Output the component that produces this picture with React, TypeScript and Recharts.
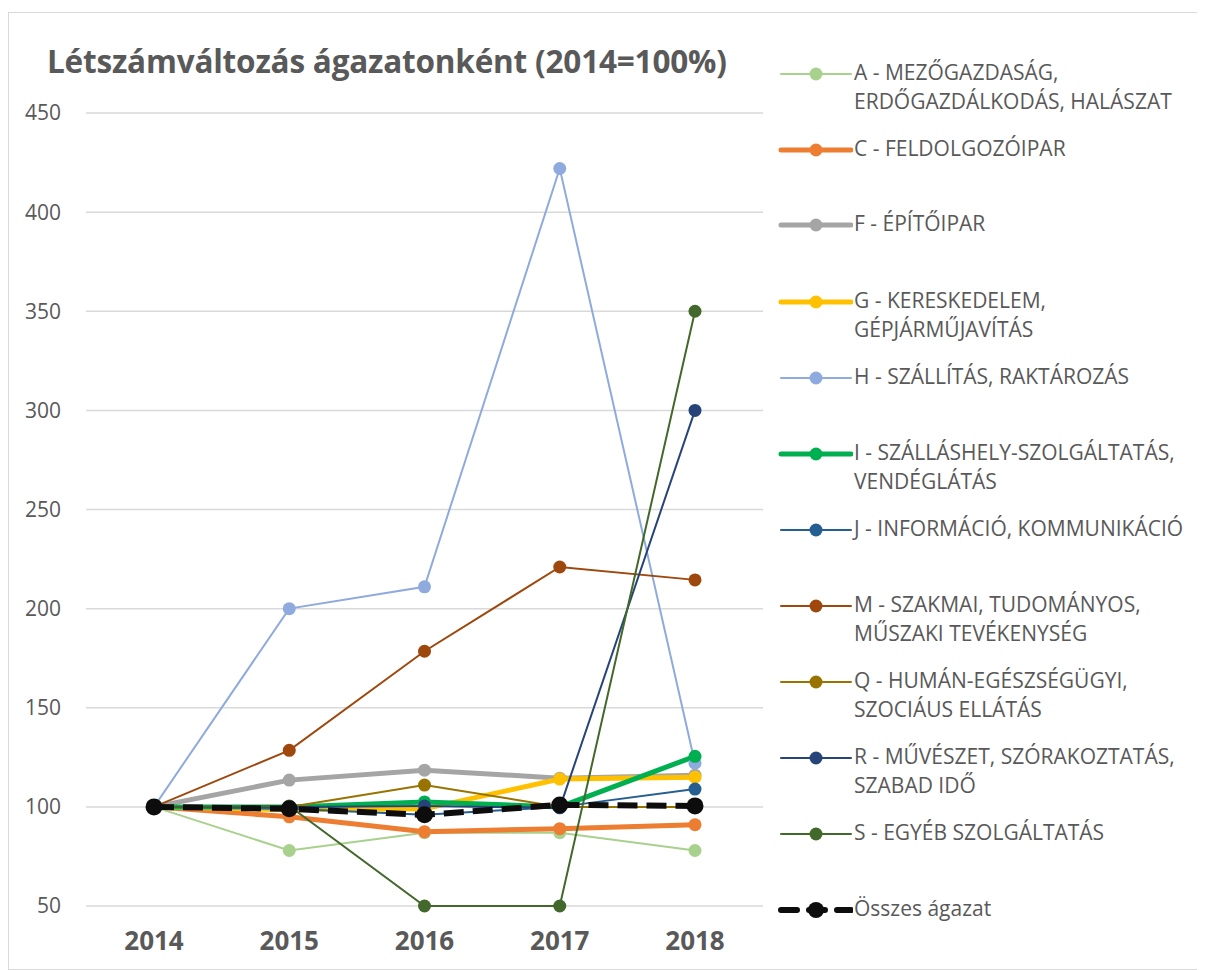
import React from 'react';
import { LineChart, Line, XAxis, YAxis, CartesianGrid } from 'recharts';

const years = ['2014', '2015', '2016', '2017', '2018'];

const seriesNames = [
  'A - MEZŐGAZDASÁG, ERDŐGAZDÁLKODÁS, HALÁSZAT',
  'C - FELDOLGOZÓIPAR',
  'F - ÉPÍTŐIPAR',
  'G - KERESKEDELEM, GÉPJÁRMŰJAVÍTÁS',
  'H - SZÁLLÍTÁS, RAKTÁROZÁS',
  'I - SZÁLLÁSHELY-SZOLGÁLTATÁS, VENDÉGLÁTÁS',
  'J - INFORMÁCIÓ, KOMMUNIKÁCIÓ',
  'M - SZAKMAI, TUDOMÁNYOS, MŰSZAKI TEVÉKENYSÉG',
  'Q - HUMÁN-EGÉSZSÉGÜGYI, SZOCIÁUS ELLÁTÁS',
  'R - MŰVÉSZET, SZÓRAKOZTATÁS, SZABAD IDŐ',
  'S - EGYÉB SZOLGÁLTATÁS',
  'Összes ágazat',
];

// legend lines (wrapped like the original)
const legendLines = [
  ['A - MEZŐGAZDASÁG,', 'ERDŐGAZDÁLKODÁS, HALÁSZAT'],
  ['C - FELDOLGOZÓIPAR'],
  ['F - ÉPÍTŐIPAR'],
  ['G - KERESKEDELEM,', 'GÉPJÁRMŰJAVÍTÁS'],
  ['H - SZÁLLÍTÁS, RAKTÁROZÁS'],
  ['I - SZÁLLÁSHELY-SZOLGÁLTATÁS,', 'VENDÉGLÁTÁS'],
  ['J - INFORMÁCIÓ, KOMMUNIKÁCIÓ'],
  ['M - SZAKMAI, TUDOMÁNYOS,', 'MŰSZAKI TEVÉKENYSÉG'],
  ['Q - HUMÁN-EGÉSZSÉGÜGYI,', 'SZOCIÁUS ELLÁTÁS'],
  ['R - MŰVÉSZET, SZÓRAKOZTATÁS,', 'SZABAD IDŐ'],
  ['S - EGYÉB SZOLGÁLTATÁS'],
  ['Összes ágazat'],
];

const valA = [100, 78, 87, 87, 78];
const valC = [100, 95, 87.5, 89, 91];
const valF = [100, 113.5, 118.5, 114.5, 116];
const valG = [100, 98.5, 99, 114, 115];
const valH = [100, 200, 211, 422, 122];
const valI = [100, 100, 102.5, 100, 125.5];
const valJ = [100, 99, 96, 100, 109];
const valM = [100, 128.5, 178.5, 221, 214.5];
const valQ = [100, 100, 111, 100, 100];
const valR = [100, 100, 100.5, 99.5, 300];
const valS = [100, 100.5, 50, 50, 350];
const valTotal = [100, 99, 96, 101, 100.5];

const yTicks = [50, 100, 150, 200, 250, 300, 350, 400, 450];

const allValues = [valA, valC, valF, valG, valH, valI, valJ, valM, valQ, valR, valS, valTotal];
const keys = ['A', 'C', 'F', 'G', 'H', 'I', 'J', 'M', 'Q', 'R', 'S', 'T'];
const colors = ['#a9d18e', '#ed7d31', '#a5a5a5', '#ffc000', '#8faadc', '#00b050', '#255e91', '#9e480e', '#997300', '#264478', '#43682b', '#0d0d0d'];
const widths = [2, 5, 5, 5, 2, 5, 2, 2, 2, 2, 2, 6];
const legendTops = [73, 149, 224, 301, 377, 453, 529, 605, 681, 757, 833, 909];

const data = years.map((y, i) => {
  const row: Record<string, string | number> = { year: y };
  keys.forEach((k, j) => { row[k] = allValues[j][i]; });
  return row;
});

const TXT = '#595959';
const FONT = '"Open Sans", sans-serif';

export default function App() {
  return (
    <div style={{ position: 'relative', width: 1200, height: 956, marginTop: 4, marginLeft: 0, border: '1px solid #d9d9d9', background: '#fff', fontFamily: FONT }}>
      <div style={{ position: 'absolute', left: 38, top: 26, fontSize: 31.5, fontWeight: 700, color: TXT, whiteSpace: 'nowrap', letterSpacing: -0.2 }}>
        Létszámváltozás ágazatonként (2014=100%)
      </div>
      <div style={{ position: 'absolute', left: -2, top: 0 }}>
        <LineChart width={770} height={956} data={data} margin={{ top: 100, right: 14, bottom: 0, left: 0 }}>
          <CartesianGrid vertical={false} stroke="#d9d9d9" strokeWidth={1.5} />
          <XAxis
            dataKey="year"
            padding={{ left: 68, right: 68 }}
            axisLine={false}
            tickLine={false}
            height={63}
            tickMargin={20}
            tick={{ fill: TXT, fontSize: 26, fontWeight: 700, fontFamily: FONT }}
          />
          <YAxis
            domain={[50, 450]}
            ticks={yTicks}
            axisLine={false}
            tickLine={false}
            width={79}
            tickMargin={19}
            tick={{ fill: TXT, fontSize: 21, fontFamily: FONT }}
          />
          {keys.map((k, j) => (
            <Line
              key={k}
              type="linear"
              dataKey={k}
              name={seriesNames[j]}
              stroke={colors[j]}
              strokeWidth={widths[j]}
              strokeDasharray={k === 'T' ? '20 9' : undefined}
              dot={{ r: k === 'T' ? 8.5 : 6.5, fill: colors[j], stroke: colors[j], strokeWidth: 0 }}
              isAnimationActive={false}
            />
          ))}
        </LineChart>
      </div>
      {legendLines.map((lines, j) => (
        <div key={j} style={{ position: 'absolute', left: 768, top: legendTops[j] - 12 - 16, display: 'flex', alignItems: 'flex-start' }}>
          <svg width={76} height={24} style={{ marginTop: 4 }}>
            <line x1={4} x2={74} y1={12} y2={12} stroke={colors[j]} strokeWidth={widths[j]} strokeLinecap="round"
              strokeDasharray={j === 11 ? '16 12' : undefined} />
            <circle cx={39} cy={12} r={j === 11 ? 8 : 6.5} fill={colors[j]} />
          </svg>
          <div style={{ fontSize: 21, lineHeight: '29px', color: TXT, whiteSpace: 'nowrap', marginLeft: 1 }}>
            {lines.map((l, i) => <div key={i}>{l}</div>)}
          </div>
        </div>
      ))}
    </div>
  );
}
